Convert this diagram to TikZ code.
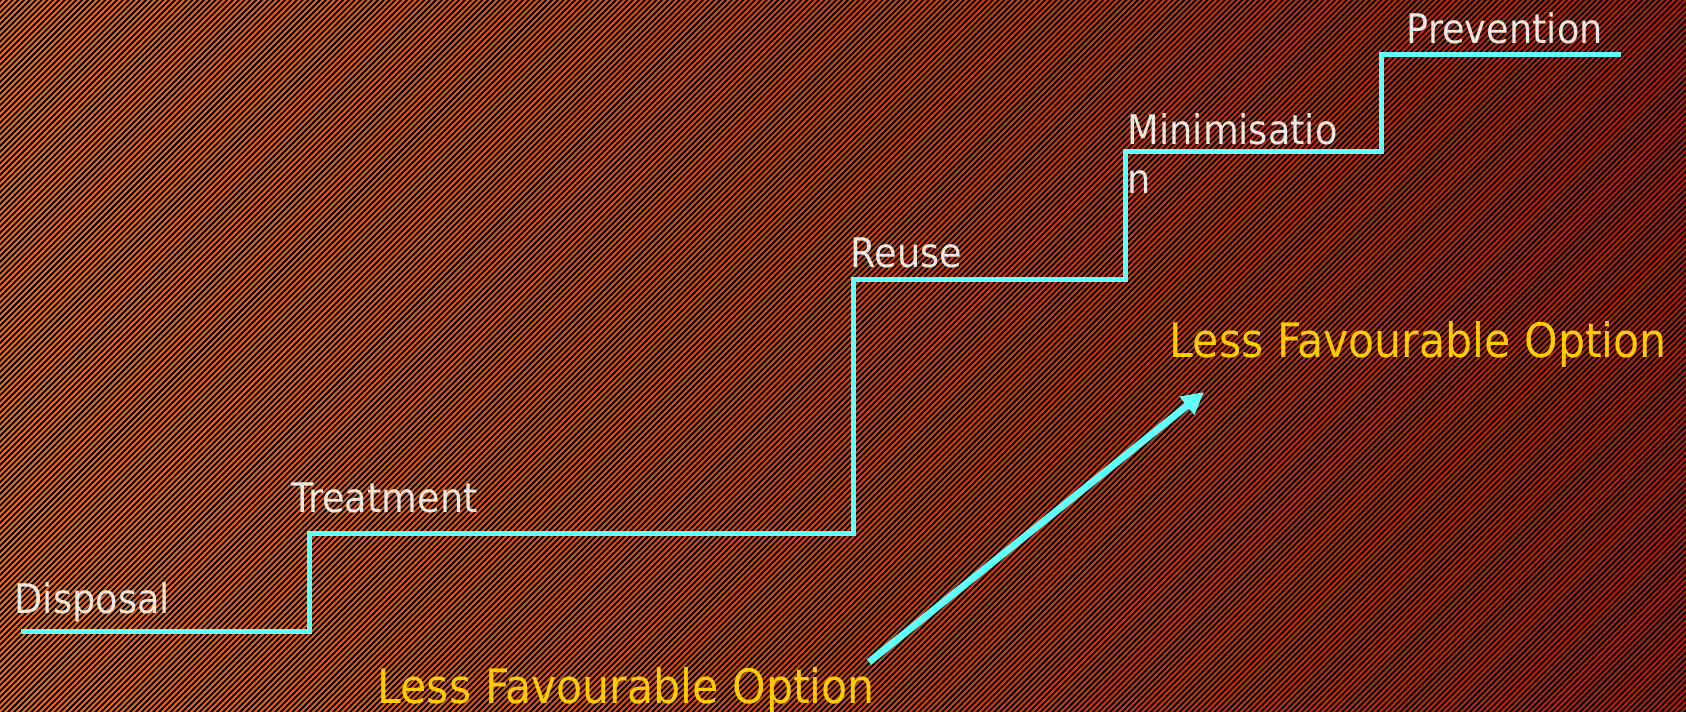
\documentclass[tikz,border=0pt]{standalone}
\usepackage{fontspec}
\setmainfont{DejaVu Sans Condensed}
\usetikzlibrary{arrows.meta}

\definecolor{bgleft}{RGB}{238,110,32}
\definecolor{bgright}{RGB}{178,32,12}
\definecolor{stepcyan}{RGB}{95,255,255}
\definecolor{labelgray}{RGB}{232,232,232}
\definecolor{optyellow}{RGB}{255,204,0}

\tikzset{
  stairline/.style={draw=stepcyan, line width=0.05cm, line join=miter},
  levellabel/.style={anchor=base west, inner sep=0pt, text=labelgray,
    font=\fontsize{11.6pt}{13.9pt}\selectfont},
  optlabel/.style={anchor=base west, inner sep=0pt, text=optyellow,
    font=\fontsize{13.5pt}{16pt}\selectfont},
  risearrow/.style={draw=stepcyan, line width=0.07cm,
    -{Triangle[length=0.22cm, width=0.22cm]}},
  stripe/.style={black, line width=0.018cm},
}

\begin{document}
\begin{tikzpicture}[x=0.01cm, y=-0.01cm]
  % canvas with a diagonal striped texture over a warm gradient
  \useasboundingbox (0,0) rectangle (1686,711);
  \shade[left color=bgleft, right color=bgright] (0,0) rectangle (1686,711);
  \begin{scope}
    \clip (0,0) rectangle (1686,711);
    \foreach \i in {0,...,420} {
      \pgfmathsetmacro{\c}{\i*5.8-715}
      \draw[stripe] (\c,716) -- (\c+720,-4);
    }
  \end{scope}

  % the waste-hierarchy staircase
  \coordinate (s0) at (21,631);
  \coordinate (s1) at (309,631);
  \coordinate (s2) at (309,533);
  \coordinate (s3) at (853,533);
  \coordinate (s4) at (853,279);
  \coordinate (s5) at (1125,279);
  \coordinate (s6) at (1125,151);
  \coordinate (s7) at (1381,151);
  \coordinate (s8) at (1381,54);
  \coordinate (s9) at (1621,54);
  \draw[stairline] (s0) -- (s1) -- (s2) -- (s3) -- (s4) -- (s5) -- (s6) -- (s7) -- (s8) -- (s9);

  % level names
  \node[levellabel] (disposal) at (14,613) {Disposal};
  \node[levellabel] (treatment) at (291,512) {Treatment};
  \node[levellabel] (reuse) at (850,267) {Reuse};
  \node[levellabel, align=left] (minimisation) at (1127,193) {Minimisatio\\n};
  \node[levellabel] (prevention) at (1406,43) {Prevention};

  % direction of preference
  \node[optlabel] (lessbottom) at (377,703) {Less Favourable Option};
  \node[optlabel] (lesstop) at (1169,357) {Less Favourable Option};
  \coordinate (arrowtail) at (869,662);
  \coordinate (arrowhead) at (1204,392);
  \draw[risearrow] (arrowtail) -- (arrowhead);
\end{tikzpicture}
\end{document}
